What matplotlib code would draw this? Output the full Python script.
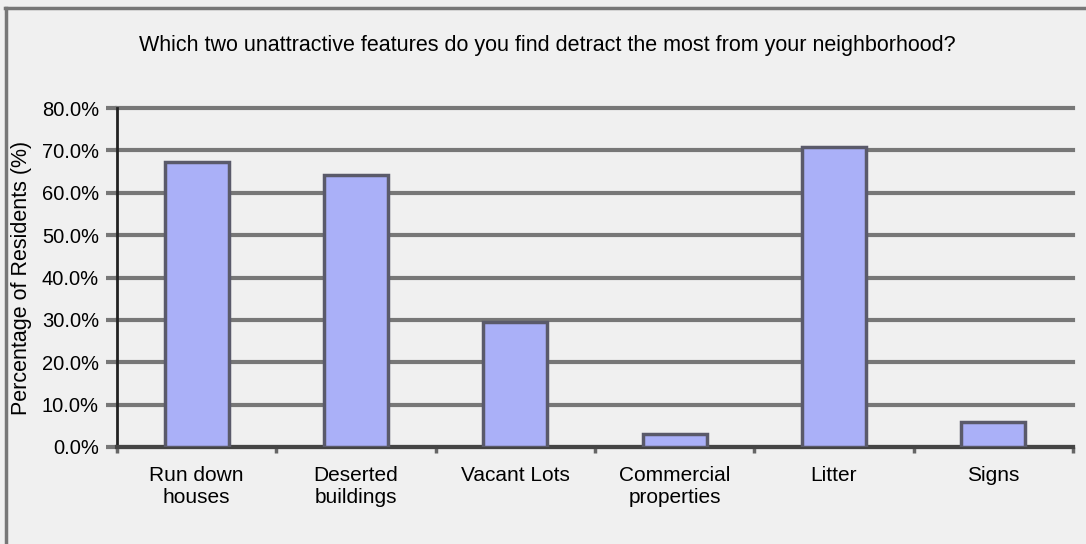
import matplotlib
matplotlib.use("Agg")
import matplotlib.pyplot as plt
from matplotlib.ticker import FuncFormatter, FixedLocator

categories = ["Run down\nhouses", "Deserted\nbuildings", "Vacant Lots",
              "Commercial\nproperties", "Litter", "Signs"]
values = [67.3, 64.2, 29.5, 3.0, 70.7, 6.0]
yticks = [0, 10, 20, 30, 40, 50, 60, 70, 80]
title = "Which two unattractive features do you find detract the most from your neighborhood?"
ylabel = "Percentage of Residents (%)"

plt.rcParams['font.family'] = ['Liberation Sans', 'DejaVu Sans']
bg = '#f0f0f0'
fig = plt.figure(figsize=(10.86, 5.44), dpi=100, facecolor=bg)
ax = fig.add_axes([117/1086, 1-447/544, (1073-117)/1086, (447-108)/544], facecolor=bg)

x = list(range(len(categories)))
ax.bar(x, values, width=0.4, color='#aab0f8', edgecolor='#5a5a6a', linewidth=2.5, zorder=3)

ax.set_xlim(-0.5, len(categories) - 0.5)
ax.set_ylim(0, 80)
ax.set_yticks(yticks)
ax.yaxis.set_major_formatter(FuncFormatter(lambda v, p: f"{v:.1f}%"))
ax.yaxis.grid(True, color='#777777', linewidth=3, zorder=1)
for gl in ax.get_ygridlines():
    gl.set_clip_on(False)
ax.set_axisbelow(True)

ax.set_xticks(x)
ax.set_xticklabels(categories, fontsize=15, linespacing=1.2)
ax.tick_params(axis='x', which='major', length=0, pad=14)
ax.xaxis.set_minor_locator(FixedLocator([i + 0.5 for i in range(-1, len(categories))]))
ax.tick_params(axis='x', which='minor', length=4, width=2.5, color='#666666')
ax.tick_params(axis='y', length=8, width=3, color='#777777', labelsize=14.5, pad=5)

for s in ['top', 'right']:
    ax.spines[s].set_visible(False)
ax.spines['left'].set_color('#222222')
ax.spines['left'].set_linewidth(2)
ax.spines['bottom'].set_color('#444444')
ax.spines['bottom'].set_linewidth(3)

ax.set_ylabel(ylabel, fontsize=15.5)
ax.yaxis.set_label_coords(-85/956, 0.5)

fig.text(547/1086, 1-45/544, title, ha='center', va='center', fontsize=15.5)

# outer frame lines (top and left)
fig.add_artist(plt.Line2D([5/1086, 1], [1-8/544, 1-8/544], color='#777777', linewidth=2.5, transform=fig.transFigure))
fig.add_artist(plt.Line2D([5.5/1086, 5.5/1086], [0, 1-8/544], color='#777777', linewidth=2.5, transform=fig.transFigure))

fig.savefig("out.png", dpi=100, facecolor=bg)
